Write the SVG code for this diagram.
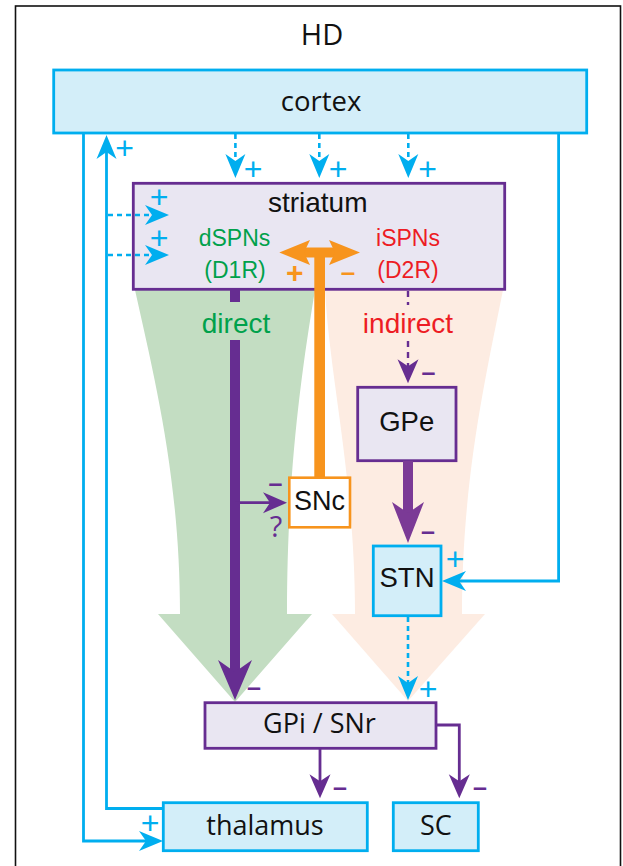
<svg xmlns="http://www.w3.org/2000/svg" width="623" height="866" viewBox="0 0 623 866">
  <style>
    .cyanbox { fill: #d3eef9; stroke: #00aeef; stroke-width: 2.8; }
    .purbox { fill: #e9e6f2; stroke: #662d91; stroke-width: 2.8; }
    .snbox { fill: #ffffff; stroke: #f7941d; stroke-width: 2.6; }
    .myr { font-family: "Open Sans", "Noto Sans", sans-serif; fill: #111; text-anchor: middle; }
    .hel { font-family: "Liberation Sans", Arial, sans-serif; fill: #111; text-anchor: middle; }
    .cy { stroke: #00aeef; stroke-width: 2.8; fill: none; }
    .cyd { stroke: #00aeef; stroke-width: 2.6; fill: none; stroke-dasharray: 5 4; }
    .pu { stroke: #662d91; stroke-width: 2.8; fill: none; }
    .pud { stroke: #662d91; stroke-width: 2.4; fill: none; stroke-dasharray: 6 5; }
    .plus { font-family: "Liberation Sans", Arial, sans-serif; font-size: 32px; fill: #00aeef; text-anchor: middle; }
    .minus { font-family: "Liberation Sans", Arial, sans-serif; font-size: 25px; font-weight: bold; fill: #662d91; text-anchor: middle; }
    .orsign { font-family: "Liberation Sans", Arial, sans-serif; font-weight: bold; fill: #f7941d; text-anchor: middle; }
  </style>
  <defs>
    <marker id="m-cyan" markerUnits="userSpaceOnUse" viewBox="0 -11 26 22" markerWidth="26" markerHeight="22" refX="14" refY="0" orient="auto" overflow="visible">
      <path d="M0,-10 L24,0 L0,10 L7,0 Z" fill="#00aeef"/>
    </marker>
    <marker id="m-pur" markerUnits="userSpaceOnUse" viewBox="0 -11 25 22" markerWidth="25" markerHeight="22" refX="14" refY="0" orient="auto" overflow="visible">
      <path d="M0,-10.5 L24,0 L0,10.5 L7,0 Z" fill="#662d91"/>
    </marker>
    <marker id="m-pur-big" markerUnits="userSpaceOnUse" viewBox="0 -18 41 36" markerWidth="41" markerHeight="36" refX="26" refY="0" orient="auto" overflow="visible">
      <path d="M0,-17 L40,0 L0,17 L12,0 Z" fill="#662d91"/>
    </marker>
    <marker id="m-gpe" markerUnits="userSpaceOnUse" viewBox="0 -17 42 34" markerWidth="42" markerHeight="34" refX="27" refY="0" orient="auto" overflow="visible">
      <path d="M0,-16 L41,0 L0,16 L11,0 Z" fill="#7b3a96"/>
    </marker>
  </defs>

  <rect x="0" y="0" width="623" height="866" fill="#ffffff"/>
  <!-- outer frame -->
  <rect x="15.5" y="6" width="605" height="880" fill="#ffffff" stroke="#111" stroke-width="1.6"/>
  <text class="myr" x="322" y="45" font-size="29">HD</text>

  <!-- pathway funnels -->
  <g id="pathways">
    <path d="M135,290 L315,290 C300,380 287,480 287,614 L312,614 L235,702 L158,614 L180,614 C180,480 155,380 135,290 Z" fill="#c3ddc2"/>
    <path d="M325,290 L503,290 C485,380 462,480 462,614 L485,614 L408,701 L332,614 L355,614 C355,480 330,380 325,290 Z" fill="#fdece2"/>
  </g>

  <g id="cortex">
    <rect class="cyanbox" x="53.7" y="70" width="533" height="63"/>
    <text class="myr" x="321" y="110.5" font-size="27.5">cortex</text>
  </g>

  <g id="striatum">
    <rect class="purbox" x="133.3" y="183.3" width="371.4" height="106"/>
    <text class="hel" x="317.7" y="212.3" font-size="28">striatum</text>
    <text class="hel" x="234.5" y="246" font-size="23" style="fill:#00a14b">dSPNs</text>
    <text class="hel" x="235" y="277.5" font-size="23" style="fill:#00a14b">(D1R)</text>
    <text class="hel" x="408" y="246" font-size="23" style="fill:#ed1c24">iSPNs</text>
    <text class="hel" x="408" y="277.5" font-size="23" style="fill:#ed1c24">(D2R)</text>
  </g>

  <g id="GPe">
    <rect class="purbox" x="357.7" y="387.3" width="98.3" height="73.4"/>
    <text class="hel" x="406.7" y="430.7" font-size="27.5">GPe</text>
  </g>

  <g id="STN">
    <rect class="cyanbox" x="373.3" y="546" width="67.7" height="69.7"/>
    <text class="hel" x="407" y="586.7" font-size="27.5">STN</text>
  </g>

  <g id="GPi-SNr">
    <rect class="purbox" x="205" y="702.7" width="231" height="45.6"/>
    <text class="myr" x="319.5" y="733.3" font-size="27">GPi / SNr</text>
  </g>

  <g id="thalamus">
    <rect class="cyanbox" x="163.3" y="802.7" width="204" height="48"/>
    <text class="myr" x="265" y="835" font-size="27">thalamus</text>
  </g>

  <g id="SC">
    <rect class="cyanbox" x="393.3" y="802.7" width="85" height="48"/>
    <text class="myr" x="435.8" y="835" font-size="27">SC</text>
  </g>

  <g id="connectors">
    <!-- cortex / thalamus loop -->
    <path class="cy" d="M83.5,133 V841 H153" marker-end="url(#m-cyan)"/>
    <path class="cy" d="M163,808.5 H106.5 V145" marker-end="url(#m-cyan)"/>
    <text class="plus" x="124.5" y="158.8">+</text>
    <text class="plus" x="150" y="834.3">+</text>

    <!-- cortex to striatum -->
    <path class="cyd" d="M235.4,134 V168" marker-end="url(#m-cyan)"/>
    <path class="cyd" d="M319.3,134 V168" marker-end="url(#m-cyan)"/>
    <path class="cyd" d="M408.3,134 V168" marker-end="url(#m-cyan)"/>
    <text class="plus" x="253" y="179.8">+</text>
    <text class="plus" x="338" y="179.8">+</text>
    <text class="plus" x="427.5" y="179.8">+</text>

    <path class="cyd" d="M108,215 H159" marker-end="url(#m-cyan)"/>
    <path class="cyd" d="M108,255 H159" marker-end="url(#m-cyan)"/>
    <text class="plus" x="159" y="208">+</text>
    <text class="plus" x="159" y="248.8">+</text>

    <!-- cortex to STN -->
    <path class="cy" d="M558.6,133 V581 H452" marker-end="url(#m-cyan)"/>
    <text class="plus" x="455" y="570.3">+</text>

    <!-- STN to GPi/SNr -->
    <path class="cyd" d="M408,617 V690" marker-end="url(#m-cyan)"/>
    <text class="plus" x="428" y="700.3">+</text>

    <!-- direct pathway -->
    <path d="M235,290 V302" stroke="#662d91" stroke-width="10" fill="none"/>
    <path d="M235,340 V686" stroke="#662d91" stroke-width="10" fill="none" marker-end="url(#m-pur-big)"/>
    <text class="minus" x="254" y="696">–</text>
    <text class="hel" x="236" y="333.3" font-size="28" style="fill:#00a14b">direct</text>

    <!-- direct collateral to SNc -->
    <path class="pu" d="M235,502.7 H277" marker-end="url(#m-pur)"/>
    <text class="minus" x="275.5" y="492">–</text>
    <text x="276" y="537" font-family="Open Sans, Noto Sans, sans-serif" font-size="29" fill="#662d91" text-anchor="middle">?</text>

    <!-- indirect pathway -->
    <path class="pud" d="M408,291 V305"/>
    <path class="pud" d="M408,341 V373.3" marker-end="url(#m-pur)"/>
    <text class="hel" x="408" y="333.3" font-size="28" style="fill:#ed1c24">indirect</text>
    <text class="minus" x="428.5" y="381">–</text>

    <path d="M408,460.7 V529" stroke="#7b3a96" stroke-width="10" fill="none" marker-end="url(#m-gpe)"/>
    <text class="minus" x="428" y="539.7">–</text>

    <!-- output nuclei -->
    <path class="pu" d="M320,748.3 V788.3" marker-end="url(#m-pur)"/>
    <path class="pu" d="M436,725 H459.3 V788.3" marker-end="url(#m-pur)"/>
    <text class="minus" x="340" y="796">–</text>
    <text class="minus" x="480" y="796">–</text>

    <!-- dopamine from SNc -->
    <g id="dopamine" fill="#f7941d">
      <rect x="314.3" y="248" width="10.7" height="231"/>
      <rect x="300" y="247.5" width="40" height="10"/>
      <path d="M279.3,252.5 L310,240 L304,252.5 L310,265 Z"/>
      <path d="M360,252.5 L329,240 L335,252.5 L329,265 Z"/>
    </g>
    <text class="orsign" x="294.7" y="283" font-size="30">+</text>
    <text class="orsign" x="348" y="280.8" font-size="26">–</text>
  </g>

  <g id="SNc">
    <rect class="snbox" x="289.3" y="477.7" width="60.7" height="49.6"/>
    <text class="hel" x="319.5" y="509.5" font-size="27">SNc</text>
  </g>
</svg>
